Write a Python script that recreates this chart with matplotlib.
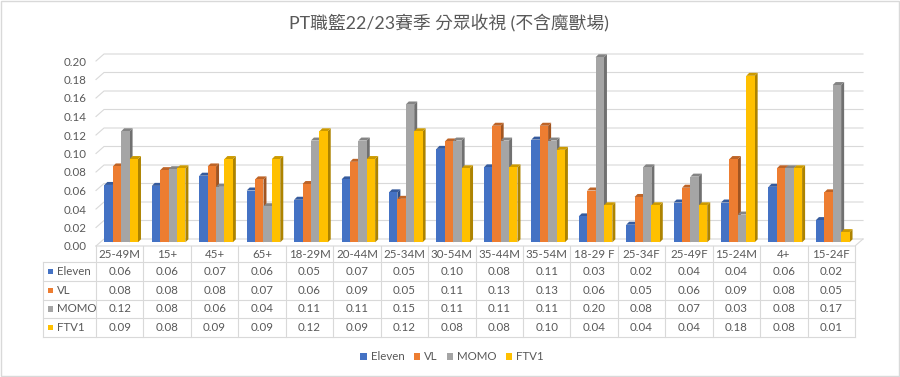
import numpy as np
import matplotlib
matplotlib.use('Agg')
import matplotlib.pyplot as plt
from matplotlib.patches import Polygon, Rectangle, Patch
from matplotlib.transforms import blended_transform_factory
from matplotlib.colors import to_rgb

plt.rcParams['font.family'] = ['Lato', 'Noto Sans CJK TC', 'DejaVu Sans']

title = 'PT職籃22/23賽季 分眾收視 (不含魔獸場)'
categories = ['25-49M', '15+', '45+', '65+', '18-29M', '20-44M', '25-34M', '30-54M',
              '35-44M', '35-54M', '18-29 F', '25-34F', '25-49F', '15-24M', '4+', '15-24F']
series_names = ['Eleven', 'VL', 'MOMO', 'FTV1']
eleven = [0.062, 0.061, 0.072, 0.056, 0.046, 0.068, 0.054, 0.101,
          0.081, 0.111, 0.028, 0.019, 0.043, 0.043, 0.060, 0.024]
vl = [0.082, 0.078, 0.082, 0.068, 0.063, 0.087, 0.047, 0.109,
      0.126, 0.126, 0.056, 0.049, 0.059, 0.090, 0.080, 0.054]
momo = [0.120, 0.079, 0.060, 0.039, 0.110, 0.110, 0.149, 0.110,
        0.110, 0.110, 0.200, 0.081, 0.071, 0.030, 0.080, 0.170]
ftv1 = [0.090, 0.080, 0.090, 0.090, 0.120, 0.090, 0.120, 0.080,
        0.081, 0.100, 0.040, 0.040, 0.040, 0.180, 0.080, 0.011]
series = [eleven, vl, momo, ftv1]
colors = ['#4472C4', '#ED7D31', '#A5A5A5', '#FFC000']
yticks = np.round(np.arange(0, 0.201, 0.02), 2)

txt_c = '#595959'
grid_c = '#D9D9D9'
W, H = 900, 377
n = len(categories)

fig = plt.figure(figsize=(W / 100, H / 100), dpi=100)

# overlay in pixel coords (table, frame)
ov = fig.add_axes([0, 0, 1, 1], zorder=0)
ov.set_xlim(0, W)
ov.set_ylim(H, 0)
ov.axis('off')
ov.add_patch(Rectangle((0.5, 0.5), W - 1.5, H - 1.5, fill=False, edgecolor=grid_c, lw=1))

ax = fig.add_axes([96 / W, (H - 246) / H, 759 / W, 185 / H], zorder=1)
ax.patch.set_alpha(0)
ax.set_xlim(0, n)
ax.set_ylim(0, 0.2)
ax.set_autoscale_on(False)
for s in ax.spines.values():
    s.set_visible(False)
ax.set_xticks([])
ax.set_yticks(yticks)
ax.set_yticklabels([f'{t:.2f}' for t in yticks])
ax.tick_params(axis='y', length=0, pad=6.5, labelsize=8.3, labelcolor=txt_c)

px = n / 759
py = 0.2 / 185

# back wall gridlines with the little 3d slant on the left
wall_dx, wall_dy = 8 * px, 7 * py
for t in yticks:
    ax.plot([0, wall_dx, n + wall_dx], [t, t + wall_dy, t + wall_dy],
            color=grid_c, lw=0.8, clip_on=False, zorder=0)
ax.plot([0, n, n + wall_dx], [0, 0, wall_dy], color=grid_c, lw=0.8, clip_on=False, zorder=0)

# 3d-ish bars (front face sits a few px behind the front plane)
bar_w = 8.4 * px
off_x, off_y = 1.45 * px, 3.7 * py
dep_x, dep_y = 3 * px, 3 * py
z = 2
for i in range(n):
    for j, vals in enumerate(series):
        v = vals[i]
        c = np.array(to_rgb(colors[j]))
        xl = i + 0.5 + off_x - 2 * bar_w + j * bar_w
        xr = xl + bar_w
        top = off_y + v
        side = Polygon([(xr, off_y), (xr + dep_x, off_y + dep_y),
                        (xr + dep_x, top + dep_y), (xr, top)],
                       closed=True, facecolor=c * 0.68, edgecolor='none', zorder=z, clip_on=False)
        cap = Polygon([(xl, top), (xl + dep_x, top + dep_y),
                       (xr + dep_x, top + dep_y), (xr, top)],
                      closed=True, facecolor=c * 0.8, edgecolor='none', zorder=z + 1, clip_on=False)
        ax.add_patch(side)
        ax.add_patch(cap)
        ax.bar(xl, v, width=bar_w, bottom=off_y, align='edge', color=c,
               linewidth=0, zorder=z + 2, clip_on=False)
        z += 3

# data table
tr = blended_transform_factory(ax.transData, ov.transData)
row_lines = [262, 281, 300, 318, 337]
row_mid = [254, 271.5, 290.5, 309, 327.5]
for k in range(n + 1):
    ov.plot([k, k], [246, 337], color=grid_c, lw=0.8, transform=tr)
ov.plot([43, 43], [262, 337], color=grid_c, lw=0.8)
for yl in row_lines:
    ov.plot([43, 855], [yl, yl], color=grid_c, lw=0.8)
for i, cat in enumerate(categories):
    ov.text(i + 0.5, row_mid[0], cat, transform=tr, ha='center', va='center',
            fontsize=8.3, color=txt_c)
for j, (name, vals) in enumerate(zip(series_names, series)):
    yc = row_mid[j + 1]
    ov.add_patch(Rectangle((47.5, yc - 2.8), 5.5, 5.5, facecolor=colors[j], edgecolor='none'))
    ov.text(56.5, yc, name, ha='left', va='center', fontsize=8.3, color=txt_c)
    for i, v in enumerate(vals):
        ov.text(i + 0.5, yc, f'{v:.2f}', transform=tr, ha='center', va='center',
                fontsize=8.3, color=txt_c)

fig.text(449 / W, 1 - 22 / H, title, ha='center', va='center', fontsize=12.8, color=txt_c)

handles = [Patch(facecolor=c, label=nm) for c, nm in zip(colors, series_names)]
fig.legend(handles=handles, loc='center', bbox_to_anchor=(452 / W, 1 - 357 / H), ncol=4,
           frameon=False, fontsize=8.3, handlelength=0.55, handleheight=0.55,
           handletextpad=0.35, columnspacing=0.8, labelcolor=txt_c)

fig.savefig('out.png', dpi=100)
